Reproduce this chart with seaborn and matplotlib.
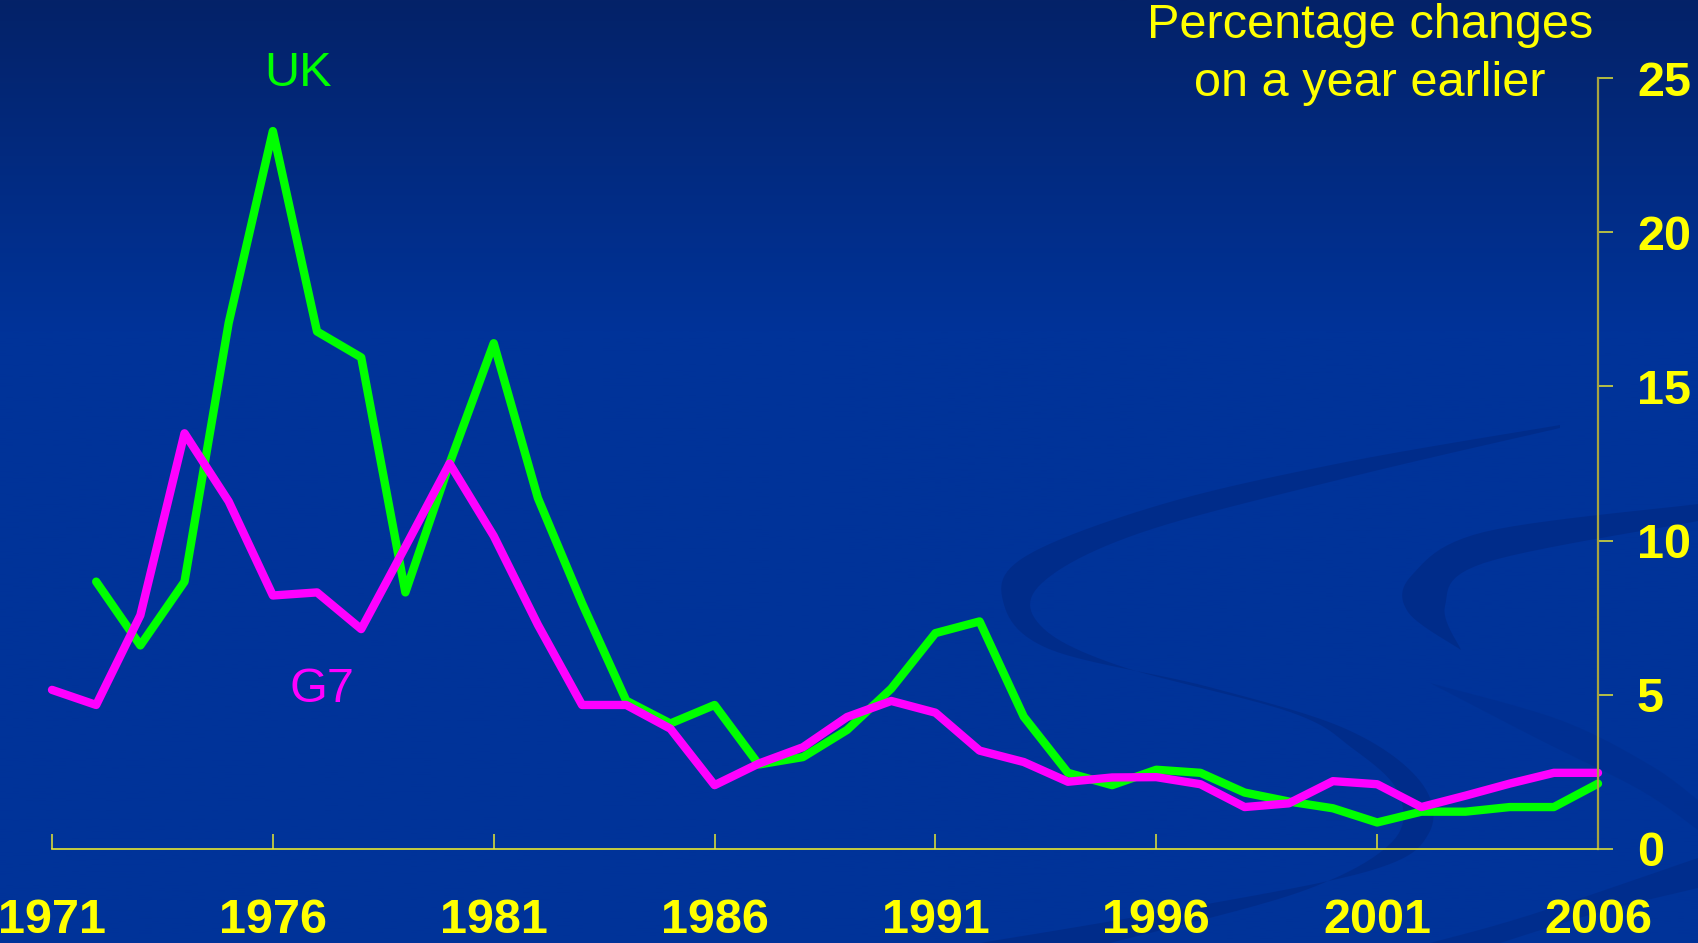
import numpy as np
import pandas as pd
import matplotlib
matplotlib.use("Agg")
import matplotlib.pyplot as plt
from matplotlib.patches import Polygon
import seaborn as sns

# data (annual % change)
years_g7 = list(range(1971, 2007))
g7 = [5.16, 4.67, 7.58, 13.48, 11.27, 8.22, 8.32, 7.13, 9.8, 12.5,
      10.15, 7.27, 4.67, 4.67, 3.9, 2.07, 2.77, 3.3, 4.28, 4.8,
      4.42, 3.19, 2.82, 2.18, 2.32, 2.33, 2.1, 1.36, 1.48, 2.2,
      2.1, 1.36, 1.73, 2.12, 2.47, 2.47]

years_uk = list(range(1972, 2007))
uk = [8.67, 6.6, 8.67, 17.06, 23.28, 16.78, 15.94, 8.32, 12.5, 16.4,
      11.38, 7.97, 4.81, 4.07, 4.67, 2.74, 2.98, 3.86, 5.2, 7.0,
      7.38, 4.29, 2.47, 2.07, 2.57, 2.47, 1.83, 1.54, 1.32, 0.86,
      1.21, 1.21, 1.36, 1.36, 2.12]

xticks = list(range(1971, 2007, 5))
yticks = [0, 5, 10, 15, 20, 25]

df = pd.concat([
    pd.DataFrame({"year": years_uk, "value": uk, "series": "UK"}),
    pd.DataFrame({"year": years_g7, "value": g7, "series": "G7"}),
])

YELLOW = "#ffff00"
GREEN = "#00ff00"
MAGENTA = "#ff00ff"

sns.set_theme(style="white")
plt.rcParams["font.family"] = ["Liberation Sans", "DejaVu Sans"]

W, H = 1698, 943
fig = plt.figure(figsize=(W / 100, H / 100), dpi=100)

# background gradient
bg = fig.add_axes([0, 0, 1, 1], zorder=0)
grad = np.linspace(0, 1, 400)
top = np.array([0x04, 0x22, 0x68]) / 255
bot = np.array([0x00, 0x33, 0x99]) / 255
t = np.clip(grad / 0.35, 0, 1)[:, None]
img = (top * (1 - t) + bot * t)[:, None, :]
bg.imshow(img, aspect="auto", extent=[0, W, H, 0])
bg.set_xlim(0, W)
bg.set_ylim(H, 0)
bg.axis("off")


def smooth(pts, n=12):
    # catmull-rom through the outline points, just for the decoration
    p = np.asarray(pts, float)
    p = np.vstack([p[0], p, p[-1]])
    out = []
    for i in range(1, len(p) - 2):
        p0, p1, p2, p3 = p[i - 1], p[i], p[i + 1], p[i + 2]
        for s in np.linspace(0, 1, n, endpoint=False):
            out.append(0.5 * ((2 * p1) + (-p0 + p2) * s
                              + (2 * p0 - 5 * p1 + 4 * p2 - p3) * s ** 2
                              + (-p0 + 3 * p1 - 3 * p2 + p3) * s ** 3))
    out.append(p[-2])
    return np.array(out)


def swoosh(outer, inner, alpha=0.75):
    poly = np.vstack([smooth(outer), smooth(inner)])
    bg.add_patch(Polygon(poly, closed=True, facecolor="#002a86",
                         edgecolor="none", alpha=alpha))


swoosh([(1560, 425), (1346, 462), (1163, 504), (1026, 556),
        (1003, 601), (1049, 649), (1209, 687), (1346, 729), (1420, 781),
        (1429, 833), (1369, 871), (1163, 912), (980, 943)],
       [(1110, 943), (1300, 892), (1392, 842), (1398, 792), (1352, 748),
        (1290, 712), (1117, 665), (1040, 625), (1042, 583), (1140, 533),
        (1346, 478), (1560, 428)])
swoosh([(1698, 504), (1484, 532), (1412, 575), (1408, 612), (1461, 650)],
       [(1461, 650), (1445, 606), (1484, 563), (1698, 521)])
swoosh([(1698, 858), (1530, 915), (1430, 943)],
       [(1500, 943), (1600, 912), (1698, 888)], alpha=0.6)
swoosh([(1430, 683), (1560, 720), (1650, 765), (1698, 800)],
       [(1698, 830), (1640, 790), (1540, 740), (1430, 683)], alpha=0.35)

ax = fig.add_axes([52 / W, (H - 849) / H, (1598 - 52) / W, (849 - 78) / H], zorder=2)
ax.set_facecolor("none")

sns.lineplot(data=df, x="year", y="value", hue="series",
             palette={"UK": GREEN, "G7": MAGENTA}, hue_order=["UK", "G7"],
             legend=False, ax=ax)
for ln in ax.lines:
    ln.set_linewidth(6.0)
    ln.set_clip_on(False)
    ln.set_solid_joinstyle("round")
    ln.set_solid_capstyle("round")

ax.set_xlim(1971, 2006)
ax.set_ylim(0, 25)
ax.set_xlabel("")
ax.set_ylabel("")
ax.set_xticks(xticks)
ax.set_yticks(yticks)
ax.xaxis.set_major_formatter(matplotlib.ticker.FuncFormatter(lambda v, p: f"{int(v)}"))

ax.yaxis.tick_right()
for s in ["left", "top"]:
    ax.spines[s].set_visible(False)
ax.spines["right"].set_color("#a8a440")
ax.spines["right"].set_linewidth(1.6)
ax.spines["bottom"].set_color("#e6e632")
ax.spines["bottom"].set_linewidth(1.2)

ax.tick_params(axis="x", direction="in", length=11, width=1.1, color="#e6e632",
               pad=35, labelsize=35, labelcolor=YELLOW, bottom=True, top=False)
ax.tick_params(axis="y", direction="out", length=11, width=1.1, color="#e6e632",
               pad=17, labelsize=35, labelcolor=YELLOW, right=True, left=False)
for lab in ax.get_xticklabels() + ax.get_yticklabels():
    lab.set_fontweight("bold")

fig.text(1370 / W, 1 - 25 / H, "Percentage changes", color=YELLOW, fontsize=35,
         ha="center", va="center")
fig.text(1370 / W, 1 - 84 / H, "on a year earlier", color=YELLOW, fontsize=35,
         ha="center", va="center")
fig.text(298 / W, 1 - 73 / H, "UK", color=GREEN, fontsize=35, ha="center", va="center")
fig.text(322 / W, 1 - 689 / H, "G7", color=MAGENTA, fontsize=35, ha="center", va="center")

fig.savefig("out.png", dpi=100)
